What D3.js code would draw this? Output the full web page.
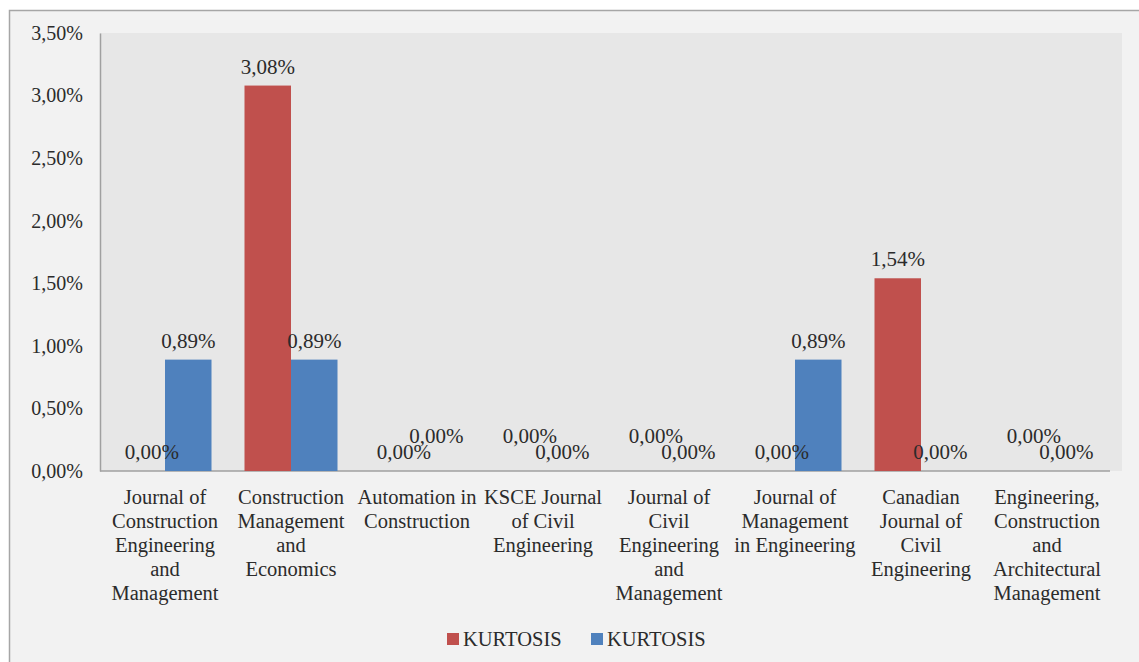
<!DOCTYPE html>
<html>
<head>
<meta charset="utf-8">
<script src="https://cdn.jsdelivr.net/npm/d3@7"></script>
<style>
  body { margin: 0; background: #ffffff; }
</style>
</head>
<body>
<div id="chart"></div>
<script>
var svgWidth = 1139;
var svgHeight = 662;

// category names, wrapped as in the picture
var categories = ['Journal of Construction Engineering and Management',
    'Construction Management and Economics', 'Automation in Construction',
    'KSCE Journal of Civil Engineering', 'Journal of Civil Engineering and Management',
    'Journal of Management in Engineering', 'Canadian Journal of Civil Engineering',
    'Engineering, Construction and Architectural Management'];
var categoryLines = [['Journal of', 'Construction', 'Engineering', 'and', 'Management'],
    ['Construction', 'Management', 'and', 'Economics'],
    ['Automation in', 'Construction'],
    ['KSCE Journal', 'of Civil', 'Engineering'],
    ['Journal of', 'Civil', 'Engineering', 'and', 'Management'],
    ['Journal of', 'Management', 'in Engineering'],
    ['Canadian', 'Journal of', 'Civil', 'Engineering'],
    ['Engineering,', 'Construction', 'and', 'Architectural', 'Management']];

var seriesNames = ['KURTOSIS', 'KURTOSIS'];
var redValues = [0, 3.08, 0, 0, 0, 0, 1.54, 0];
var blueValues = [0.89, 0.89, 0, 0, 0, 0.89, 0, 0];
var yTicks = [0, 0.5, 1, 1.5, 2, 2.5, 3, 3.5];

// zero labels that Excel pushed up to avoid overlap
var redLift = [0, 0, 0, 1, 1, 0, 0, 1];
var blueLift = [0, 0, 1, 0, 0, 0, 0, 0];

var colors = ['#c0504d', '#4f81bd'];
var serifFace = 'Liberation Serif';
var textColor = '#2b2b2b';

var plotLeft = 100, plotTop = 33, plotRight = 1122, plotBottom = 471;
var axisLeft = 102, axisRight = 1110;

var svg = d3.select('#chart').append('svg')
    .attr('width', svgWidth)
    .attr('height', svgHeight);

// outer chart frame
svg.append('rect')
    .attr('x', 9.5).attr('y', 10.5)
    .attr('width', svgWidth + 20).attr('height', svgHeight + 20)
    .attr('fill', '#f2f2f2')
    .attr('stroke', '#a6a6a6')
    .attr('stroke-width', 1.5);

// plot area
svg.append('rect')
    .attr('x', plotLeft).attr('y', plotTop)
    .attr('width', plotRight - plotLeft).attr('height', plotBottom - plotTop)
    .attr('fill', '#e7e7e7');

var data = categories.map(function(c, i) {
    return {cat: c, idx: i, values: [
        {s: 0, v: redValues[i], lift: redLift[i]},
        {s: 1, v: blueValues[i], lift: blueLift[i]}]};
});

var x0 = d3.scaleBand().domain(categories).range([axisLeft, axisRight]);
var bw = x0.bandwidth();
var x1 = d3.scaleBand().domain([0, 1]).range([16.5, bw - 16.5]);
var y = d3.scaleLinear().domain([0, 3.5]).range([plotBottom, plotTop]);

var fmt = function(v) { return v.toFixed(2).replace('.', ',') + '%'; };

// y axis
var yAxis = svg.append('g')
    .attr('transform', 'translate(' + plotLeft + ',0)')
    .call(d3.axisLeft(y).tickValues(yTicks).tickSize(0).tickPadding(17).tickFormat(fmt));
yAxis.select('.domain').attr('stroke', '#a0a0a0').attr('stroke-width', 1.5);
yAxis.selectAll('text')
    .attr('font-family', serifFace)
    .attr('font-size', 20)
    .attr('fill', textColor);

// x axis
var xAxis = svg.append('g')
    .attr('transform', 'translate(0,' + plotBottom + ')')
    .call(d3.axisBottom(x0).tickSize(0).tickFormat(''));
xAxis.select('.domain').attr('stroke', '#a0a0a0').attr('stroke-width', 1.5)
    .attr('d', 'M' + plotLeft + ',0H' + axisRight);

var catText = svg.append('g').selectAll('text')
    .data(categoryLines)
    .enter()
    .append('text')
    .attr('text-anchor', 'middle')
    .attr('font-family', serifFace)
    .attr('font-size', 20.5)
    .attr('fill', textColor);
catText.each(function(lines, i) {
    var t = d3.select(this);
    lines.forEach(function(line, j) {
        t.append('tspan')
            .attr('x', x0(categories[i]) + bw / 2)
            .attr('y', plotBottom + 33 + 24 * j)
            .text(line);
    });
});

// bars
var groups = svg.append('g').selectAll('g')
    .data(data)
    .enter()
    .append('g')
    .attr('transform', d => 'translate(' + x0(d.cat) + ',0)');

groups.selectAll('rect')
    .data(d => d.values)
    .enter()
    .append('rect')
    .attr('x', d => x1(d.s))
    .attr('y', d => y(d.v))
    .attr('width', x1.bandwidth())
    .attr('height', d => plotBottom - y(d.v))
    .attr('fill', d => colors[d.s]);

// data labels
groups.selectAll('text.lbl')
    .data(d => d.values)
    .enter()
    .append('text')
    .attr('class', 'lbl')
    .attr('text-anchor', 'middle')
    .attr('font-family', serifFace)
    .attr('font-size', 21)
    .attr('fill', textColor)
    .attr('x', d => x1(d.s) + x1.bandwidth() / 2 + (d.v === 0 ? (d.s === 0 ? 10 : -4) : 0))
    .attr('y', d => y(d.v) - 12 - d.lift * 16)
    .text(d => fmt(d.v));

// legend
var legend = svg.append('g').attr('transform', 'translate(447,639)');
var legendX = [0, 144];
seriesNames.forEach(function(name, i) {
    legend.append('rect')
        .attr('x', legendX[i]).attr('y', -6)
        .attr('width', 12).attr('height', 12)
        .attr('fill', colors[i]);
    legend.append('text')
        .attr('x', legendX[i] + 16).attr('y', 7)
        .attr('font-family', serifFace)
        .attr('font-size', 20.5)
        .attr('fill', textColor)
        .text(name);
});
</script>
</body>
</html>
